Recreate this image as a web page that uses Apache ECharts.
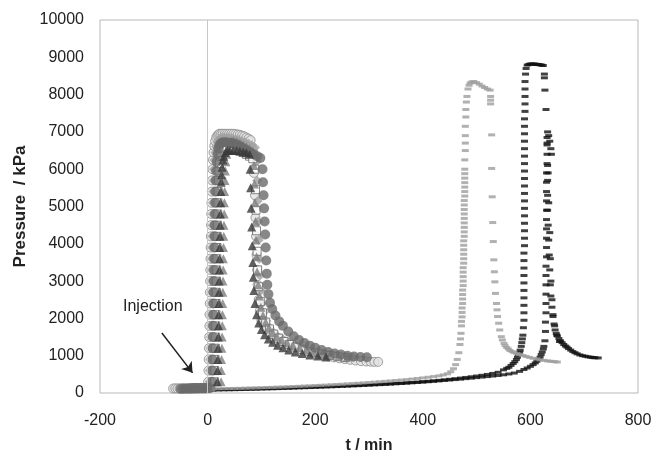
<!DOCTYPE html>
<html><head><meta charset="utf-8">
<script src="https://cdn.jsdelivr.net/npm/echarts@6/dist/echarts.min.js"></script>
<style>html,body{margin:0;padding:0;background:#fff}#c{width:655px;height:453px}</style>
</head><body><div id="c"></div>
<script>
// tick definitions
const xTicks = [-200, 0, 200, 400, 600, 800];
const yTicks = [0,1000,2000,3000,4000,5000,6000,7000,8000,9000,10000];

// Early injection runs [t (min), P (kPa)]
const runHollowCircle = [[-64,120],[-60,125],[-56,122],[-52,125],[-48,128],[-44,125],[-40,128],[-36,126],[-32,130],[-28,128],[-24,130],[-20,132],[-16,130],[-12,133],[-8,135],[-4,138],[0,150],[1,300],[1.5,600],[2,900],[2.5,1200],[3,1500],[3.3,1800],[3.6,2100],[4,2400],[4.3,2700],[4.6,3000],[5,3300],[5.3,3600],[5.6,3900],[6,4200],[6.4,4500],[6.8,4800],[7.2,5100],[7.7,5400],[8.2,5700],[9,6000],[10,6250],[11,6450],[12.5,6620],[14,6750],[16,6850],[18,6900],[20,6930],[22,6950],[25,6950],[28,6950],[32,6950],[36,6950],[40,6950],[44,6950],[48,6950],[52,6940],[56,6930],[60,6920],[64,6900],[68,6880],[72,6850],[76,6820],[80,6780],[84,6500],[86,5900],[88,5300],[89,4700],[90,4200],[91,3700],[92,3300],[93,2900],[95,2500],[97,2200],[100,1950],[105,1800],[110,1700],[118,1580],[126,1520],[135,1460],[145,1380],[155,1300],[165,1230],[175,1170],[185,1120],[195,1075],[205,1040],[215,1010],[225,980],[235,955],[245,930],[255,910],[265,890],[275,870],[285,855],[295,845],[303,840],[310,835],[317,835]];
const runDarkCircle = [[-50,110],[-45,112],[-40,112],[-35,115],[-30,115],[-25,118],[-20,118],[-15,120],[-10,120],[-5,122],[0,125],[4,130],[8,300],[8.5,600],[9,900],[9.5,1200],[10,1500],[10.3,1800],[10.6,2100],[11,2400],[11.3,2700],[11.6,3000],[12,3300],[12.3,3600],[12.6,3900],[13,4200],[13.4,4500],[13.8,4800],[14.2,5100],[14.7,5400],[15.3,5700],[16,5950],[17,6200],[18.5,6400],[20,6550],[22,6650],[25,6700],[29,6720],[34,6720],[39,6710],[44,6700],[50,6680],[56,6650],[62,6600],[68,6550],[74,6500],[80,6450],[86,6400],[92,6350],[98,6300],[102,6000],[103,5650],[104,5300],[105,4950],[106,4600],[107,4250],[108,3900],[109,3550],[110,3200],[111,2900],[113,2650],[116,2420],[120,2250],[126,2080],[133,1920],[140,1800],[150,1650],[160,1520],[170,1420],[180,1340],[190,1270],[200,1210],[212,1150],[224,1100],[236,1060],[248,1030],[260,1000],[272,980],[284,965],[296,960]];
const runHollowSquare = [[-30,130],[-25,132],[-20,135],[-15,138],[-10,140],[-5,142],[0,145],[6,150],[13,300],[13.5,600],[14,900],[14.5,1200],[15,1500],[15.3,1800],[15.6,2100],[16,2400],[16.3,2700],[16.6,3000],[17,3300],[17.3,3600],[17.6,3900],[18,4200],[18.4,4500],[18.8,4800],[19.2,5100],[19.7,5400],[20.3,5700],[21,5950],[22,6150],[23.5,6350],[25,6450],[28,6550],[31,6580],[36,6600],[42,6600],[48,6580],[54,6550],[60,6500],[66,6450],[72,6400],[78,6350],[84,6280],[88,6000],[89,5450],[90,4900],[91,4350],[92,3800],[93,3300],[95,2850],[98,2450],[102,2150],[108,1900],[115,1720],[123,1580],[132,1470],[142,1380],[152,1300],[164,1230],[176,1170],[188,1120],[200,1080],[214,1040],[228,1005],[242,975],[256,950]];
const runDarkTriangle = [[18,300],[18.5,600],[19,900],[19.5,1200],[20,1500],[20.3,1800],[20.6,2100],[21,2400],[21.3,2700],[21.6,3000],[22,3300],[22.3,3600],[22.6,3900],[23,4200],[23.4,4500],[23.8,4800],[24.2,5100],[24.7,5400],[25.3,5650],[26,5850],[27,6050],[28.5,6250],[30,6350],[33,6450],[37,6500],[42,6500],[48,6500],[54,6500],[60,6480],[66,6460],[72,6440],[78,6400],[79,6000],[80,5500],[81,4950],[82,4450],[83,3950],[84,3500],[85,3100],[86,2750],[88,2400],[91,2100],[95,1880],[100,1700],[106,1560],[113,1450],[121,1360],[130,1280],[140,1210],[151,1150],[163,1100],[176,1060],[190,1020],[205,990],[220,965]];
const runGrayDiamond = [[-45,120],[-40,122],[-35,122],[-30,125],[-25,125],[-20,128],[-15,128],[-10,130],[-5,130],[0,135],[4,300],[4.5,600],[5,900],[5.5,1200],[6,1500],[6.3,1800],[6.6,2100],[7,2400],[7.3,2700],[7.6,3000],[8,3300],[8.3,3600],[8.6,3900],[9,4200],[9.4,4500],[9.8,4800],[10.2,5100],[10.7,5400],[11.3,5700],[12,6000],[13,6250],[14.5,6450],[16,6600],[18,6720],[21,6800],[25,6850],[30,6850],[35,6850],[40,6840],[46,6820],[52,6800],[58,6780],[64,6750],[70,6720],[76,6680],[82,6640],[88,6580],[91,6200],[92,5700],[93,5150],[94,4600],[95,4100],[96,3600],[97,3150],[99,2750],[101,2400],[104,2150],[109,1930],[115,1760],[122,1630],[130,1520],[139,1430],[149,1350],[160,1280],[172,1220],[185,1160],[198,1110],[212,1070],[226,1035],[240,1005],[255,980],[270,960]];
const runGrayTriangle = [[25,300],[25.5,600],[26,900],[26.5,1200],[27,1500],[27.3,1800],[27.6,2100],[28,2400],[28.3,2700],[28.6,3000],[29,3300],[29.3,3600],[29.6,3900],[30,4200],[30.4,4500],[30.8,4800],[31.2,5100],[31.7,5400],[32.3,5700],[33,5950],[34,6200],[35.5,6400],[37,6550],[40,6680],[44,6750],[48,6760],[54,6740],[60,6700],[66,6650],[72,6600],[78,6550],[84,6480],[86,6100],[87,5600],[88,5100],[89,4600],[90,4100],[91,3650],[92,3250],[94,2900],[96,2600],[99,2300],[103,2080],[108,1900],[114,1750],[121,1620],[129,1510],[138,1420],[148,1340],[159,1270],[171,1210],[184,1150],[198,1100],[213,1060],[228,1025],[244,995],[260,970]];

// Delayed runs
const runLateGray = [[0,110],[10,112],[20,114],[30,117],[40,120],[50,123],[60,126],[70,130],[80,134],[90,138],[100,142],[110,147],[120,152],[130,157],[140,162],[150,168],[160,174],[170,180],[180,186],[190,192],[200,199],[210,206],[220,213],[230,220],[240,228],[250,236],[260,244],[270,253],[280,262],[290,271],[300,281],[310,291],[320,301],[330,312],[340,323],[350,335],[360,347],[370,360],[380,374],[390,389],[400,405],[410,422],[420,440],[430,460],[438,485],[446,515],[452,570],[457,650],[461,760],[464,900],[467,1080],[469,1300],[470,1450],[471,1600],[472,1800],[472,1920],[473,2040],[473,2160],[473,2280],[474,2400],[474,2520],[474,2640],[474,2760],[475,2880],[475,3000],[475,3120],[475,3240],[475,3360],[476,3480],[476,3600],[476,3720],[476,3840],[476,3960],[476,4080],[477,4200],[477,4320],[477,4440],[477,4560],[477,4680],[477,4800],[477,4920],[477,5040],[477,5160],[478,5280],[478,5400],[478,5520],[478,5640],[478,5760],[478,5880],[478,6000],[478,6250],[479,6500],[479,6700],[479,6900],[479,7150],[480,7400],[480,7600],[481,7800],[482,7950],[484,8150],[486,8250],[488,8310],[491,8340],[495,8350],[500,8320],[505,8280],[510,8230],[515,8190],[520,8150],[525,8120],[526,7950],[526,7850],[526,7750],[528,6920],[528,6020],[529,5260],[530,4570],[531,4060],[532,3570],[533,3250],[534,2980],[535,2670],[537,2400],[538,2230],[539,2050],[541,1870],[543,1690],[546,1510],[548,1420],[551,1330],[553,1270],[556,1220],[559,1180],[562,1140],[566,1110],[570,1080],[575,1055],[580,1030],[586,1005],[592,980],[598,955],[605,930],[612,910],[618,890],[625,875],[632,860],[638,850],[645,840],[650,830]];
const runLateBlackA = [[10,90],[20,92],[30,95],[40,98],[50,101],[60,104],[70,107],[80,111],[90,115],[100,119],[110,123],[120,127],[130,132],[140,136],[150,141],[160,146],[170,151],[180,156],[190,161],[200,166],[210,171],[220,176],[230,181],[240,186],[250,192],[260,198],[270,204],[280,210],[290,216],[300,222],[310,229],[320,236],[330,243],[340,250],[350,258],[360,266],[370,275],[380,284],[390,294],[400,304],[410,315],[420,327],[430,340],[440,354],[450,368],[460,384],[470,400],[480,417],[490,435],[500,455],[510,475],[520,498],[530,525],[540,555],[550,620],[556,660],[560,690],[564,740],[568,790],[571,840],[574,900],[576,960],[578,1020],[580,1090],[581,1150],[583,1250],[584,1350],[585,1450],[586,1550],[587,1750],[588,1950],[588,2150],[588,2350],[588,2550],[588,2750],[588,2950],[588,3150],[588,3350],[588,3550],[588,3750],[589,3950],[589,4150],[589,4350],[589,4550],[589,4750],[589,4950],[589,5150],[589,5350],[589,5550],[589,5750],[589,5950],[589,6150],[589,6350],[589,6550],[589,6750],[589,6950],[589,7150],[589,7350],[590,7550],[590,7750],[590,7950],[590,8150],[590,8350],[591,8550],[592,8700],[594,8790],[597,8810],[600,8820],[603,8820],[606,8820],[609,8815],[612,8810],[615,8805],[618,8800],[621,8790],[624,8780],[626,8550],[626,8450],[627,8120],[629,7600],[631,6700],[633,5900],[634,5100],[636,4300],[637,3600],[638,3000],[640,2500],[642,2100],[645,1800],[649,1550],[654,1380]];
const runLateBlackB = [[10,80],[20,82],[30,84],[40,86],[50,89],[60,92],[70,95],[80,98],[90,101],[100,105],[110,109],[120,113],[130,117],[140,121],[150,126],[160,131],[170,136],[180,141],[190,146],[200,151],[210,156],[220,161],[230,166],[240,172],[250,178],[260,184],[270,190],[280,196],[290,203],[300,210],[310,217],[320,224],[330,231],[340,239],[350,247],[360,255],[370,264],[380,273],[390,282],[400,292],[410,302],[420,313],[430,324],[440,336],[450,348],[460,360],[470,372],[480,385],[490,398],[500,412],[510,426],[520,440],[530,455],[540,470],[550,488],[560,510],[570,535],[580,580],[588,630],[594,670],[600,715],[605,760],[609,805],[612,850],[615,900],[618,960],[620,1030],[622,1100],[624,1180],[625,1250],[627,1400],[628,1650],[628,1900],[629,2150],[629,2400],[629,2650],[629,2900],[629,3150],[629,3400],[630,3650],[630,3900],[630,4150],[630,4400],[630,4650],[630,4900],[630,5150],[630,5400],[630,5650],[630,5900],[631,6150],[631,6400],[631,6650],[631,6850],[632,7000],[634,6900],[636,6750],[638,6550],[639,6400],[632,6100],[632,5700],[632,5300],[632,4900],[633,4500],[634,4100],[635,3700],[636,3300],[637,2900],[638,2600],[640,2300],[642,2050],[644,1850],[646,1690],[648,1600],[650,1530],[653,1460],[656,1400],[659,1350],[662,1300],[665,1260],[668,1230],[671,1190],[675,1150],[679,1110],[683,1080],[687,1050],[692,1020],[697,1000],[702,985],[707,970],[712,960],[716,950],[720,945],[726,940]];

// annotation
const injectionText = 'Injection';
const injectionArrow = [[-85,1610],[-28,540]];

const FONT = 'Liberation Sans, Arial, sans-serif';
function sc(name, data, symbol, size, color, border) {
  return {name, type:'scatter', data, symbol, symbolSize:size, z:3,
    itemStyle:{color, borderColor:border||color, borderWidth:border?1:0}};
}
const series = [
  {type:'scatter', data:[], z:1, silent:true,
   markLine:{silent:true, symbol:'none', label:{show:false}, lineStyle:{color:'#c8c8c8', width:1, type:'solid'}, data:[{xAxis:0}]}},
  sc('B', runLateBlackB, 'rect', [7,3], '#111'),
  sc('A', runLateBlackA, 'rect', [7,3], '#111'),
  sc('G', runLateGray, 'rect', [7,3], '#9e9e9e'),
  sc('hc', runHollowCircle, 'circle', 9, '#e2e2e2', '#8a8a8a'),
  sc('dia', runGrayDiamond, 'diamond', 10, '#a0a0a0'),
  sc('sq', runHollowSquare, 'rect', 8, '#ffffff', '#666'),
  sc('tri2', runGrayTriangle, 'triangle', 9, '#7d7d7d'),
  sc('dc', runDarkCircle, 'circle', 10, '#6a6a6a'),
  sc('tri', runDarkTriangle, 'triangle', 9, '#383838'),
  {type:'scatter', data:[], silent:true, z:5,
   markLine:{silent:true, symbol:['none','arrow'], symbolSize:10, label:{show:false},
     lineStyle:{color:'#222', width:1.5, type:'solid'},
     data:[[{coord:injectionArrow[0]},{coord:injectionArrow[1]}]]}}
];

const chart = echarts.init(document.getElementById('c'), null, {renderer:'canvas'});
chart.setOption({
  animation:false,
  backgroundColor:'#ffffff',
  grid:{left:100, right:17, top:20, bottom:60, outerBoundsMode:'none', containLabel:false, show:true, borderColor:'#b8b8b8', borderWidth:1, backgroundColor:'transparent'},
  xAxis:{type:'value', min:xTicks[0], max:xTicks[xTicks.length-1], interval:200,
    axisLine:{show:false}, axisTick:{show:false}, splitLine:{show:false},
    axisLabel:{fontFamily:FONT, fontSize:16, color:'#222', margin:20, formatter:v=>String(v)},
    name:'t / min', nameLocation:'middle', nameGap:45,
    nameTextStyle:{fontFamily:FONT, fontSize:16, fontWeight:'bold', color:'#222'}},
  yAxis:{type:'value', min:yTicks[0], max:yTicks[yTicks.length-1], interval:1000,
    axisLine:{show:false}, axisTick:{show:false}, splitLine:{show:false},
    axisLabel:{fontFamily:FONT, fontSize:16, color:'#222', margin:16, formatter:v=>String(v)},
    name:'Pressure  / kPa', nameLocation:'middle', nameGap:58,
    nameTextStyle:{fontFamily:FONT, fontSize:17, fontWeight:'bold', color:'#222'}},
  graphic:[{type:'text', left:123, top:299, style:{text:injectionText, font:'16px '+FONT, fill:'#222'}}],
  series
});
</script></body></html>
